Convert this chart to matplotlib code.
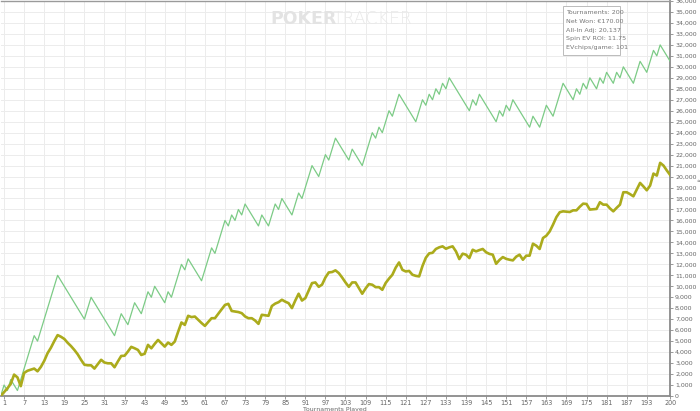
import numpy as np
import matplotlib
matplotlib.use("Agg")
import matplotlib.pyplot as plt
from matplotlib.ticker import FuncFormatter

# Cumulative chips won (actual), tournaments 0..200
chips_won = [
    0, 1000, 500, 1500, 1000, 500, 1500, 2500, 3500, 4500,
    5500, 5000, 6000, 7000, 8000, 9000, 10000, 11000, 10500, 10000,
    9500, 9000, 8500, 8000, 7500, 7000, 8000, 9000, 8500, 8000,
    7500, 7000, 6500, 6000, 5500, 6500, 7500, 7000, 6500, 7500,
    8500, 8000, 7500, 8500, 9500, 9000, 10000, 9500, 9000, 8500,
    9500, 9000, 10000, 11000, 12000, 11500, 12500, 12000, 11500, 11000,
    10500, 11500, 12500, 13500, 13000, 14000, 15000, 16000, 15500, 16500,
    16000, 17000, 16500, 17500, 17000, 16500, 16000, 15500, 16500, 16000,
    15500, 16500, 17500, 17000, 18000, 17500, 17000, 16500, 17500, 18500,
    18000, 19000, 20000, 21000, 20500, 20000, 21000, 22000, 21500, 22500,
    23500, 23000, 22500, 22000, 21500, 22500, 22000, 21500, 21000, 22000,
    23000, 24000, 23500, 24500, 24000, 25000, 26000, 25500, 26500, 27500,
    27000, 26500, 26000, 25500, 25000, 26000, 27000, 26500, 27500, 27000,
    28000, 27500, 28500, 28000, 29000, 28500, 28000, 27500, 27000, 26500,
    26000, 27000, 26500, 27500, 27000, 26500, 26000, 25500, 25000, 26000,
    25500, 26500, 26000, 27000, 26500, 26000, 25500, 25000, 24500, 25500,
    25000, 24500, 25500, 26500, 26000, 25500, 26500, 27500, 28500, 28000,
    27500, 27000, 28000, 27500, 28500, 28000, 29000, 28500, 28000, 29000,
    28500, 29500, 29000, 28500, 29500, 29000, 30000, 29500, 29000, 28500,
    29500, 30500, 30000, 29500, 30500, 31500, 31000, 32000, 31500, 31000,
    30500,
]

# All-in adjusted chips, tournaments 0..200
allin_adj = [
    0, 350, 700, 1100, 1950, 1700, 900, 2100, 2300, 2400,
    2500, 2250, 2650, 3200, 3900, 4400, 5000, 5550, 5400, 5200,
    4850, 4550, 4200, 3800, 3300, 2850, 2800, 2800, 2500, 2900,
    3300, 3050, 2980, 2980, 2620, 3150, 3650, 3670, 4050, 4480,
    4350, 4200, 3740, 3850, 4660, 4350, 4750, 5110, 4800, 4500,
    4870, 4660, 4960, 5850, 6700, 6480, 7310, 7190, 7240, 6950,
    6650, 6390, 6750, 7090, 7090, 7500, 7900, 8300, 8400, 7750,
    7700, 7650, 7550, 7250, 7090, 7090, 6880, 6575, 7400, 7350,
    7310, 8200, 8420, 8550, 8770, 8600, 8460, 8010, 8700, 9320,
    8700, 8920, 9600, 10290, 10350, 9950, 10150, 10800, 11260, 11300,
    11450, 11200, 10800, 10350, 9950, 10350, 10350, 9830, 9320, 9800,
    10200, 10140, 9920, 9920, 9680, 10300, 10700, 11050, 11700, 12170,
    11500, 11350, 11400, 11050, 10950, 10900, 11850, 12600, 13000, 13050,
    13400, 13550, 13640, 13420, 13550, 13640, 13180, 12480, 12970, 12880,
    12570, 13330, 13180, 13300, 13400, 13100, 12950, 12880, 12050, 12400,
    12660, 12500, 12420, 12360, 12700, 12880, 12420, 12790, 12790, 13880,
    13700, 13400, 14400, 14610, 15000, 15620, 16300, 16750, 16830, 16800,
    16770, 16920, 16920, 17250, 17530, 17500, 16990, 17020, 17050, 17660,
    17440, 17440, 17100, 16830, 17150, 17440, 18570, 18570, 18400, 18200,
    18800, 19420, 19100, 18750, 19180, 20270, 20090, 21250, 21000, 20550,
    20137,
]

x_ticks = [1, 7, 13, 19, 25, 31, 37, 43, 49, 55, 61, 67, 73, 79, 85, 91, 97,
           103, 109, 115, 121, 127, 133, 139, 145, 151, 157, 163, 169, 175,
           181, 187, 193, 200]
y_ticks = list(range(0, 36001, 1000))

info_lines = ["Tournaments: 200", "Net Won: \u20ac170.00", "All-In Adj: 20,137",
              "Spin EV ROI: 11.75", "EVchips/game: 101"]

fig = plt.figure(figsize=(7, 4.11), dpi=100)
ax = fig.add_axes([0.001, 15 / 411, 669.5 / 700, 395 / 411])

x1 = np.arange(len(chips_won))
x2 = np.arange(len(allin_adj))
ax.plot(x1, chips_won, color="#7ccb86", lw=0.9, zorder=3)
ax.plot(x2, allin_adj, color="#abab1c", lw=1.9, zorder=4)

ax.set_xlim(0, 200)
ax.set_ylim(0, 36000)
ax.set_xticks(x_ticks)
ax.set_yticks(y_ticks)
ax.yaxis.tick_right()
ax.yaxis.set_major_formatter(FuncFormatter(lambda v, p: f"{int(v):,}"))
ax.tick_params(axis="y", labelsize=4.5, colors="#888888", labelcolor="#666666",
               length=2.5, width=0.6, pad=1)
ax.tick_params(axis="x", labelsize=4.7, colors="#888888", labelcolor="#666666",
               length=2, width=0.6, pad=1)
ax.grid(True, color="#ececec", lw=0.7, zorder=0)
ax.spines["left"].set_visible(False)
for s in ["bottom", "right"]:
    ax.spines[s].set_color("#8a8a8a")
    ax.spines[s].set_linewidth(1.3)
ax.spines["top"].set_color("#9a9a9a")
ax.spines["top"].set_linewidth(1.0)

fig.text(335 / 700, 1 - 409.3 / 411, "Tournaments Played", fontsize=4.5,
         color="#666666", ha="center", va="center")
fig.text(698.3 / 700, 1 - 181 / 411, "\u2248", fontsize=4, color="#666666",
         ha="center", va="center")

# watermark
fig.text(270 / 700, 1 - 19 / 411, "POKER", fontsize=12.5, fontweight="bold",
         color="#e3e3e3", ha="left", va="center", zorder=1)
fig.text(333 / 700, 1 - 19 / 411, "TRACKER", fontsize=12.5, fontweight="light",
         color="#e9e9e9", ha="left", va="center", zorder=1)

# info box
ax.add_patch(plt.Rectangle((563 / 700, 1 - 55 / 411), 57 / 700, 49 / 411,
                           transform=fig.transFigure, facecolor="white",
                           edgecolor="#bbbbbb", lw=0.7, zorder=5))
for i, line in enumerate(info_lines):
    fig.text(566.5 / 700, 1 - (12.7 + i * 8.75) / 411, line, fontsize=4.6,
             color="#777777", ha="left", va="center", zorder=6)

fig.savefig("out.png", dpi=100)
